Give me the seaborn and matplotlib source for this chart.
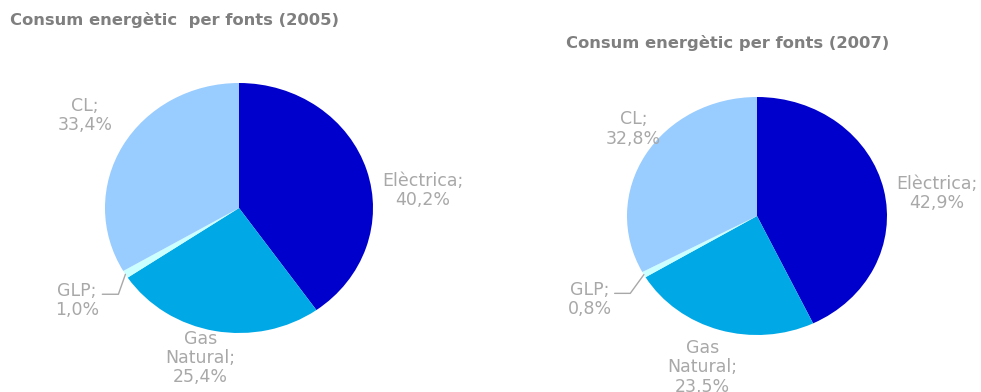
import numpy as np
import matplotlib
matplotlib.use('Agg')
import matplotlib.pyplot as plt
import seaborn as sns

# Dades
fonts = ['Elèctrica', 'Gas\nNatural', 'GLP', 'CL']
consum_2005 = [40.2, 25.4, 1.0, 33.4]
consum_2007 = [42.9, 23.5, 0.8, 32.8]
colors = ['#0000CC', '#00A8E6', '#CCFFFF', '#99CCFF']

sns.set_style('white')
plt.rcParams['font.family'] = ['DejaVu Sans']

W, H = 981, 392
fig = plt.figure(figsize=(W / 100, H / 100), dpi=100)

label_color = '#A8A8A8'
title_color = '#7F7F7F'


def draw_pie(cx, cy, rx, ry, values, label_pos, title, title_xy):
    # el pastís original està lleugerament eixamplat (el·lipse)
    ax = fig.add_axes([(cx - rx) / W, (H - cy - ry) / H, 2 * rx / W, 2 * ry / H])
    wedges, _ = ax.pie(values, colors=colors, startangle=90, counterclock=False,
                       radius=1, wedgeprops=dict(linewidth=0))
    ax.set_aspect('auto')
    ax.set_xlim(-1, 1)
    ax.set_ylim(-1, 1)
    ax.axis('off')
    for name, v, (x, y) in zip(fonts, values, label_pos):
        txt = f'{name};\n{v:.1f}%'.replace('.', ',')
        ax.text(x, y, txt, ha='center', va='center', fontsize=12.5,
                color=label_color, linespacing=1.1)
    # línia guia del GLP
    w = wedges[2]
    ang = np.deg2rad((w.theta1 + w.theta2) / 2)
    ex, ey = np.cos(ang), np.sin(ang)
    lx, ly = label_pos[2]
    ax.plot([lx + 0.19, lx + 0.31, ex], [ly + 0.05, ly + 0.05, ey],
            color=label_color, lw=1, clip_on=False)
    fig.text(title_xy[0] / W, 1 - title_xy[1] / H, title, fontsize=11.8,
             fontweight='bold', color=title_color, ha='left', va='center')


draw_pie(239, 208, 134, 125, consum_2005,
         [(1.37, 0.14), (-0.29, -1.2), (-1.21, -0.74), (-1.15, 0.74)],
         'Consum energètic  per fonts (2005)', (10, 20))
draw_pie(757, 216, 130, 119, consum_2007,
         [(1.385, 0.19), (-0.42, -1.27), (-1.285, -0.7), (-0.95, 0.73)],
         'Consum energètic per fonts (2007)', (566, 43))

fig.savefig('out.png', dpi=100)
